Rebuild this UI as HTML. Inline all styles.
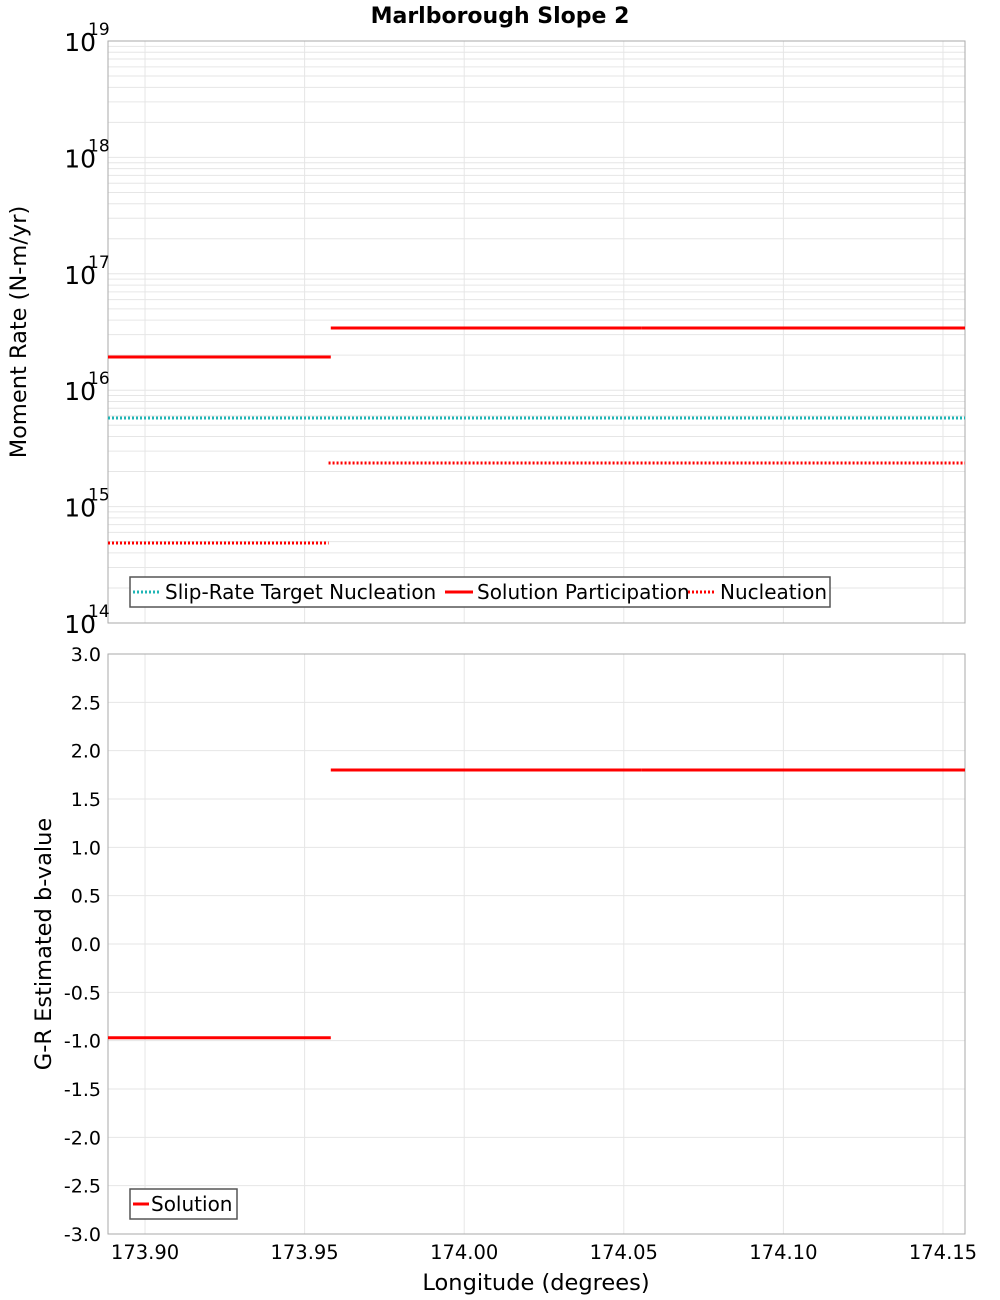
<!DOCTYPE html>
<html><head><meta charset="utf-8"><style>
body{margin:0;background:#fff;}
svg{display:block;font-family:"DejaVu Sans","Liberation Sans",sans-serif;}
</style></head><body>
<svg id="c" width="1000" height="1300" xmlns="http://www.w3.org/2000/svg">
<text x="500" y="23" text-anchor="middle" font-size="22" font-weight="bold">Marlborough Slope 2</text>
<text transform="translate(26,332) rotate(-90)" text-anchor="middle" font-size="22.5">Moment Rate (N-m/yr)</text>
<text transform="translate(51,944) rotate(-90)" text-anchor="middle" font-size="22.5">G-R Estimated b-value</text>
<text x="536" y="1290" text-anchor="middle" font-size="22.5">Longitude (degrees)</text>
</svg>
<script>
const segStarts=[173.8884,173.9582,174.0555];
const segEnds=[173.9582,174.0555,174.1569];
const partValues=[1.93e16,3.42e16,3.42e16];
const nuclStarts=[173.8884,173.9575];
const nuclEnds=[173.9575,174.1569];
const nuclValues=[4.87e14,2.37e15];
const targetValue=5.77e15;
const bValues=[-0.97,1.80,1.80];
const xTicks=[173.90,173.95,174.00,174.05,174.10,174.15];
const xTickLabels=["173.90","173.95","174.00","174.05","174.10","174.15"];
const logExps=[14,15,16,17,18,19];
const bTicks=[3.0,2.5,2.0,1.5,1.0,0.5,0.0,-0.5,-1.0,-1.5,-2.0,-2.5,-3.0];

const NS="http://www.w3.org/2000/svg";
const svg=document.getElementById('c');
const L=108,R=965,T1=41,B1=623,T2=654,B2=1234;
const X0=173.8884,X1=174.1569;
const xs=v=>L+(v-X0)/(X1-X0)*(R-L);
const ys1=v=>B1-(Math.log10(v)-14)/5*(B1-T1);
const ys2=v=>T2+(3-v)/6*(B2-T2);
function mk(tag,attrs,parent){const e=document.createElementNS(NS,tag);for(const k in attrs)e.setAttribute(k,attrs[k]);(parent||svg).appendChild(e);return e;}

for(let d=14;d<19;d++){for(let m=1;m<10;m++){const y=ys1(m*Math.pow(10,d));
const g=mk('line',{x1:L,x2:R,y1:y,y2:y,stroke:'#e6e6e6','stroke-width':1});

}}
bTicks.forEach(v=>{const y=ys2(v);
const g=mk('line',{x1:L,x2:R,y1:y,y2:y,stroke:'#e6e6e6','stroke-width':1});

});
xTicks.forEach(v=>{const x=xs(v);
[[T1,B1],[T2,B2]].forEach(([a,b])=>{const g=mk('line',{x1:x,x2:x,y1:a,y2:b,stroke:'#e6e6e6','stroke-width':1});

});});

const f1=mk('rect',{x:L,y:T1,width:R-L,height:B1-T1,fill:'none',stroke:'#aaa','stroke-width':1});


const f2=mk('rect',{x:L,y:T2,width:R-L,height:B2-T2,fill:'none',stroke:'#aaa','stroke-width':1});



logExps.forEach(e=>{const y=ys1(Math.pow(10,e));
const t=mk('text',{x:96,y:y+10,'text-anchor':'end','font-size':25});t.textContent='10';


const s=mk('text',{x:88,y:y-6,'font-size':17});s.textContent=String(e);

});
bTicks.forEach(v=>{const t=mk('text',{x:101,y:ys2(v)+7,'text-anchor':'end','font-size':19});t.textContent=v.toFixed(1);

});
xTicks.forEach((v,i)=>{const t=mk('text',{x:xs(v),y:1259,'text-anchor':'middle','font-size':19.5});t.textContent=xTickLabels[i];

});

const tl=mk('line',{x1:L,x2:R,y1:ys1(targetValue),y2:ys1(targetValue),stroke:'#1fb5b5','stroke-width':3,'stroke-dasharray':'2,2'});


nuclValues.forEach((v,i)=>{const l=mk('line',{x1:xs(nuclStarts[i]),x2:xs(nuclEnds[i]),y1:ys1(v),y2:ys1(v),stroke:'#f00','stroke-width':3,'stroke-dasharray':'2,2'});

});
partValues.forEach((v,i)=>{const l=mk('line',{x1:xs(segStarts[i]),x2:xs(segEnds[i]),y1:ys1(v),y2:ys1(v),stroke:'#f00','stroke-width':3});

});
bValues.forEach((v,i)=>{const l=mk('line',{x1:xs(segStarts[i]),x2:xs(segEnds[i]),y1:ys2(v),y2:ys2(v),stroke:'#f00','stroke-width':3});

});

const lg1=mk('g',{});


mk('rect',{x:130,y:577,width:700,height:30,fill:'#fff',stroke:'#555','stroke-width':1.5},lg1);
[['Slip-Rate Target Nucleation','#1fb5b5',true,133],['Solution Participation','#f00',false,445],['Nucleation','#f00',true,688]].forEach(([lab,c,d,x])=>{
const g=mk('g',{},lg1);


const a={x1:x,x2:x+28,y1:592,y2:592,stroke:c,'stroke-width':3};if(d)a['stroke-dasharray']='2,2';mk('line',a,g);
const t=mk('text',{x:x+32,y:599,'font-size':20},g);t.textContent=lab;});
const lg2=mk('g',{});


mk('rect',{x:130,y:1189,width:107,height:30,fill:'#fff',stroke:'#555','stroke-width':1.5},lg2);
mk('line',{x1:133,x2:149,y1:1204,y2:1204,stroke:'#f00','stroke-width':3},lg2);
const t2=mk('text',{x:151,y:1211,'font-size':20},lg2);t2.textContent='Solution';
</script>
</body></html>
